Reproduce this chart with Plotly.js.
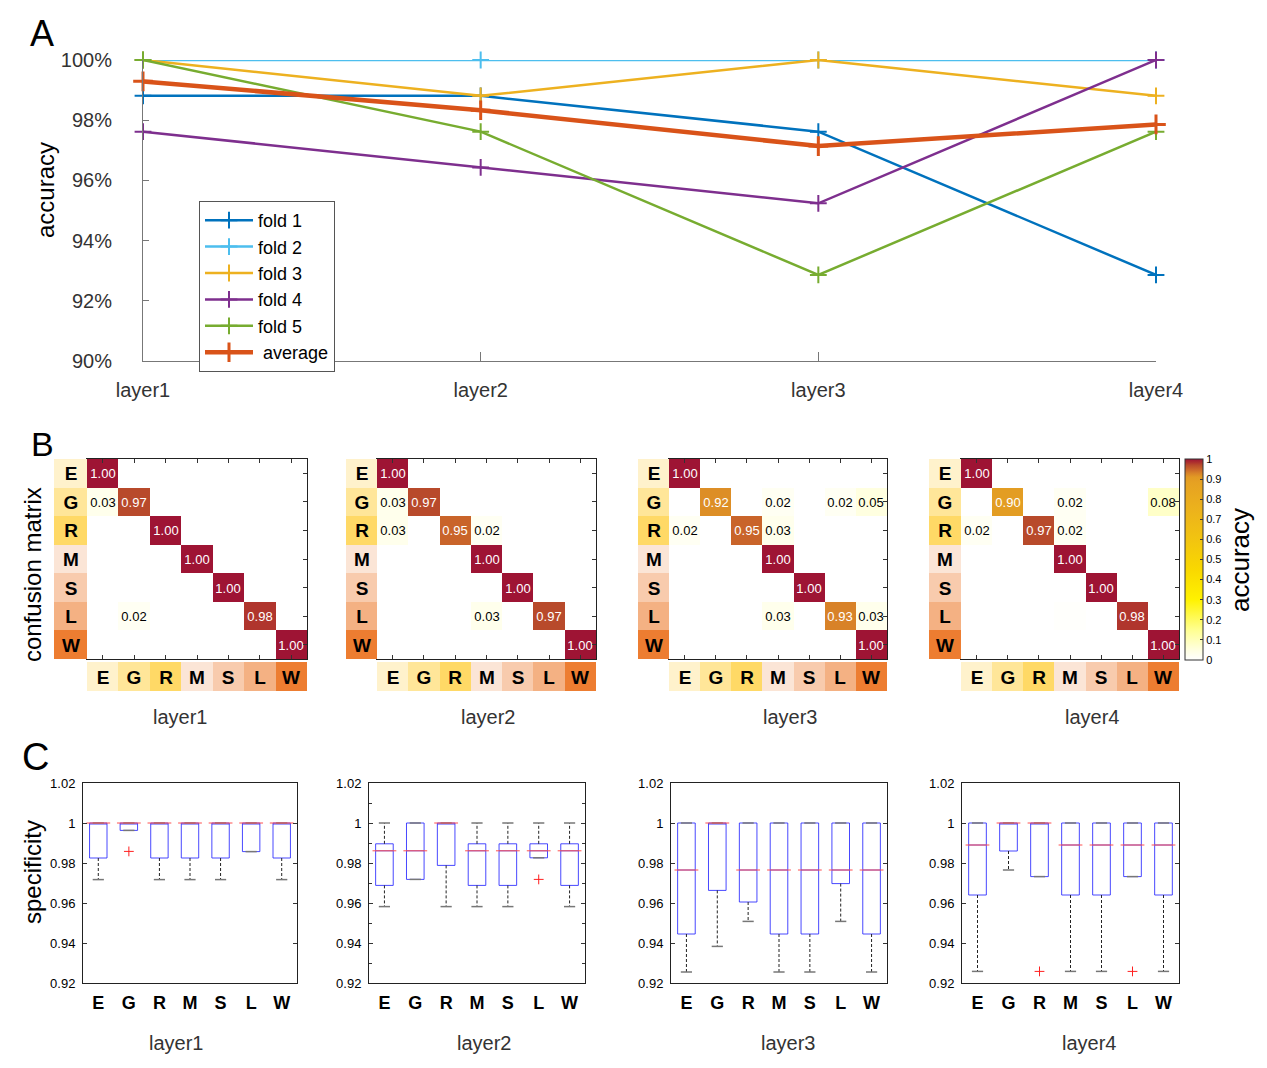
<!DOCTYPE html>
<html>
<head>
<meta charset="utf-8">
<script src="https://cdn.plot.ly/plotly-3.0.1.min.js"></script>
<style>html,body{margin:0;padding:0;background:#fff;}#chart{width:1267px;height:1068px;}</style>
</head>
<body>
<div id="chart"></div>
<script>
// ---------- DATA ----------
const layers = ['layer1', 'layer2', 'layer3', 'layer4'];
const foldNames = ['fold 1', 'fold 2', 'fold 3', 'fold 4', 'fold 5', ' average'];
const foldColors = ['#0072BD', '#4DBEEE', '#EDB120', '#7E2F8E', '#77AC30', '#D95319'];
const fold1 = [98.81, 98.81, 97.62, 92.86];
const fold2 = [100, 100, 100, 100];
const fold3 = [100, 98.81, 100, 98.81];
const fold4 = [97.62, 96.43, 95.24, 100];
const fold5 = [100, 97.62, 92.86, 97.62];
const average = [99.29, 98.33, 97.14, 97.86];
const accTicks = [90, 92, 94, 96, 98, 100];
const accLabels = ['90%', '92%', '94%', '96%', '98%', '100%'];

const classes = ['E', 'G', 'R', 'M', 'S', 'L', 'W'];
const classColors = ['#FFF2CC', '#FFE699', '#FFD966', '#FBE5D6', '#F8CBAD', '#F4B183', '#ED7D31'];

const cm1 = [
  [1.00, 0, 0, 0, 0, 0, 0],
  [0.03, 0.97, 0, 0, 0, 0, 0],
  [0, 0, 1.00, 0, 0, 0, 0],
  [0, 0, 0, 1.00, 0, 0, 0],
  [0, 0, 0, 0, 1.00, 0, 0],
  [0, 0.02, 0, 0, 0, 0.98, 0],
  [0, 0, 0, 0, 0, 0, 1.00]];
const cm2 = [
  [1.00, 0, 0, 0, 0, 0, 0],
  [0.03, 0.97, 0, 0, 0, 0, 0],
  [0.03, 0, 0.95, 0.02, 0, 0, 0],
  [0, 0, 0, 1.00, 0, 0, 0],
  [0, 0, 0, 0, 1.00, 0, 0],
  [0, 0, 0, 0.03, 0, 0.97, 0],
  [0, 0, 0, 0, 0, 0, 1.00]];
const cm3 = [
  [1.00, 0, 0, 0, 0, 0, 0],
  [0, 0.92, 0, 0.02, 0, 0.02, 0.05],
  [0.02, 0, 0.95, 0.03, 0, 0, 0],
  [0, 0, 0, 1.00, 0, 0, 0],
  [0, 0, 0, 0, 1.00, 0, 0],
  [0, 0, 0, 0.03, 0, 0.93, 0.03],
  [0, 0, 0, 0, 0, 0, 1.00]];
const cm4 = [
  [1.00, 0, 0, 0, 0, 0, 0],
  [0, 0.90, 0, 0.02, 0, 0, 0.08],
  [0.02, 0, 0.97, 0.02, 0, 0, 0],
  [0, 0, 0, 1.00, 0, 0, 0],
  [0, 0, 0, 0, 1.00, 0, 0],
  [0, 0, 0, 0.005, 0, 0.98, 0],
  [0, 0, 0, 0, 0, 0, 1.00]];
const cbTicks = [0, 0.1, 0.2, 0.3, 0.4, 0.5, 0.6, 0.7, 0.8, 0.9, 1];
const cbLabels = ['0', '0.1', '0.2', '0.3', '0.4', '0.5', '0.6', '0.7', '0.8', '0.9', '1'];

// box-plot statistics per layer, classes E G R M S L W
const boxQ1 = [
  [0.9825, 0.9963, 0.9825, 0.9825, 0.9825, 0.9857, 0.9825],
  [0.9688, 0.9718, 0.9788, 0.9688, 0.9688, 0.9826, 0.9688],
  [0.9445, 0.9663, 0.9605, 0.9445, 0.9445, 0.9697, 0.9445],
  [0.9640, 0.9860, 0.9732, 0.9640, 0.9640, 0.9732, 0.9640]];
const boxMed = [
  [1, 1, 1, 1, 1, 1, 1],
  [0.9861, 0.9861, 1, 0.9861, 0.9861, 0.9861, 0.9861],
  [0.9765, 1, 0.9765, 0.9765, 0.9765, 0.9765, 0.9765],
  [0.9890, 1, 1, 0.9890, 0.9890, 0.9890, 0.9890]];
const boxQ3 = [
  [1, 1, 1, 1, 1, 1, 1],
  [0.9896, 1, 1, 0.9896, 0.9896, 0.9896, 0.9896],
  [1, 1, 1, 1, 1, 1, 1],
  [1, 1, 1, 1, 1, 1, 1]];
const boxLo = [
  [0.9717, 0.9963, 0.9717, 0.9717, 0.9717, 0.9857, 0.9717],
  [0.9582, 0.9718, 0.9582, 0.9582, 0.9582, 0.9826, 0.9582],
  [0.9255, 0.9383, 0.9508, 0.9255, 0.9255, 0.9508, 0.9255],
  [0.9258, 0.9765, 0.9732, 0.9258, 0.9258, 0.9732, 0.9258]];
const boxHi = [
  [1, 1, 1, 1, 1, 1, 1],
  [1, 1, 1, 1, 1, 1, 1],
  [1, 1, 1, 1, 1, 1, 1],
  [1, 1, 1, 1, 1, 1, 1]];
const outCls = [['G'], ['L'], [], ['R', 'L']];
const outVal = [[0.9858], [0.9718], [], [0.9258, 0.9258]];
const specTicks = [0.92, 0.94, 0.96, 0.98, 1, 1.02];
const specLabels = ['0.92', '0.94', '0.96', '0.98', '1', '1.02'];

// ---------- LAYOUT HELPERS ----------
const W = 1267, H = 1068;
const px = v => v / W;
const py = v => 1 - v / H;
const FONT = 'Liberation Sans, Arial, Helvetica, sans-serif';

const traces = [];
const layout = {
  width: W, height: H,
  margin: {l: 0, r: 0, t: 0, b: 0},
  paper_bgcolor: '#fff', plot_bgcolor: 'rgba(0,0,0,0)',
  font: {family: FONT, color: '#000'},
  showlegend: true,
  legend: {
    x: px(199), y: py(201), xanchor: 'left', yanchor: 'top',
    bordercolor: '#555', borderwidth: 1, bgcolor: '#fff',
    font: {size: 18, color: '#000'}, tracegroupgap: 0, itemwidth: 48,
    entrywidth: 115, entrywidthmode: 'pixels'
  },
  annotations: []
};

// ---------- PANEL A ----------
const foldSeries = [fold1, fold2, fold3, fold4, fold5, average];
foldSeries.forEach((s, k) => {
  const avg = k === 5;
  traces.push({
    type: 'scatter', mode: 'lines+markers', name: foldNames[k],
    x: [1, 2, 3, 4], y: s, xaxis: 'x', yaxis: 'y', cliponaxis: false,
    line: {color: foldColors[k], width: avg ? 4.5 : 2.5},
    marker: {symbol: 'cross-thin', size: avg ? 14 : 12, color: foldColors[k],
             line: {color: foldColors[k], width: avg ? 3 : 2}},
    hoverinfo: 'skip'
  });
});
layout.xaxis = {
  domain: [px(143), px(1156)], range: [1, 4], anchor: 'y',
  tickvals: [1, 2, 3, 4], ticktext: layers, ticks: 'inside', ticklen: 9, tickcolor: '#777',
  showline: true, linecolor: '#777', linewidth: 1, showgrid: false, zeroline: false,
  tickfont: {size: 20, color: '#333'}, ticklabelstandoff: 11
};
layout.yaxis = {
  domain: [py(361), py(60)], range: [90, 100], anchor: 'x',
  tickvals: accTicks, ticktext: accLabels, ticks: 'inside', ticklen: 6, tickcolor: '#777',
  showline: true, linecolor: '#777', linewidth: 1, showgrid: false, zeroline: false,
  tickfont: {size: 20, color: '#333'}, ticklabelstandoff: 26
};

// ---------- PANEL B ----------
const cms = [cm1, cm2, cm3, cm4];
const mL = [87, 377, 669, 961], mR = [307, 596, 887, 1179], rL = [54, 346, 638, 929];
const idx = [0, 1, 2, 3, 4, 5, 6];
const stripScale = [];
classColors.forEach((c, k) => { stripScale.push([k / 7, c]); stripScale.push([(k + 1) / 7, c]); });

layout.coloraxis = {
  cmin: 0, cmax: 1,
  colorscale: [
    [0, '#FFFFFF'], [0.05, '#FFFFE0'], [0.15, '#FFFF90'], [0.3, '#FFF200'],
    [0.45, '#F9D800'], [0.6, '#F2C410'], [0.75, '#ECB21C'], [0.88, '#E6A222'],
    [0.91, '#E29A24'], [0.93, '#D88228'], [0.95, '#C9642A'], [0.97, '#B84A2B'],
    [0.98, '#B0352D'], [1, '#9E1434']],
  colorbar: {
    x: px(1185), xanchor: 'left', xref: 'paper', y: py(459), yanchor: 'top',
    len: 201, lenmode: 'pixels', thickness: 18, thicknessmode: 'pixels',
    outlinecolor: '#333', outlinewidth: 1, xpad: 0, ypad: 0,
    tickvals: cbTicks, ticktext: cbLabels, ticks: 'inside', ticklen: 3, tickcolor: '#333',
    tickfont: {size: 11, color: '#000'}
  }
};

cms.forEach((cm, i) => {
  const xm = 'x' + (2 + i), ym = 'y' + (2 + i), xr = 'x' + (6 + i), yc = 'y' + (6 + i);
  // light cells: black text
  const txtLight = cm.map(r => r.map(v => (v >= 0.01 && v < 0.5) ? v.toFixed(2) : ''));
  traces.push({
    type: 'heatmap', x: idx, y: idx, z: cm, text: txtLight, texttemplate: '%{text}',
    textfont: {size: 13, family: FONT, color: '#000'},
    coloraxis: 'coloraxis', xaxis: xm, yaxis: ym, hoverinfo: 'skip', showlegend: false
  });
  // dark cells: white text (only high values kept)
  const zDark = cm.map(r => r.map(v => v >= 0.5 ? v : null));
  const txtDark = cm.map(r => r.map(v => v >= 0.5 ? v.toFixed(2) : ''));
  traces.push({
    type: 'heatmap', x: idx, y: idx, z: zDark, text: txtDark, texttemplate: '%{text}',
    textfont: {size: 13, family: FONT, color: '#fff'},
    coloraxis: 'coloraxis', xaxis: xm, yaxis: ym, hoverinfo: 'skip', showlegend: false
  });
  // row label strip
  traces.push({
    type: 'heatmap', x: [0], y: idx, z: idx.map(k => [k]), text: classes.map(c => [c]),
    texttemplate: '<b>%{text}</b>', textfont: {size: 19, color: '#000', family: FONT},
    colorscale: stripScale, zmin: -0.5, zmax: 6.5, showscale: false,
    xaxis: xr, yaxis: ym, hoverinfo: 'skip', showlegend: false
  });
  // column label strip
  traces.push({
    type: 'heatmap', x: idx, y: [0], z: [idx], text: [classes],
    texttemplate: '<b>%{text}</b>', textfont: {size: 19, color: '#000', family: FONT},
    colorscale: stripScale, zmin: -0.5, zmax: 6.5, showscale: false,
    xaxis: xm, yaxis: yc, hoverinfo: 'skip', showlegend: false
  });
  const common = {showticklabels: false, ticks: 'inside', ticklen: 4, tickcolor: '#333',
    showline: true, linecolor: '#222', linewidth: 1,
    showgrid: false, zeroline: false, tickvals: idx, layer: 'above traces'};
  layout['xaxis' + (2 + i)] = Object.assign({domain: [px(mL[i]), px(mR[i])], range: [-0.5, 6.5], anchor: ym, side: 'bottom', mirror: 'ticks'}, common);
  layout['yaxis' + (2 + i)] = Object.assign({domain: [py(659), py(459)], range: [6.5, -0.5], anchor: xm, side: 'right', mirror: true}, common);
  layout['xaxis' + (6 + i)] = {domain: [px(rL[i]), px(mL[i])], range: [-0.5, 0.5], anchor: ym, visible: false};
  layout['yaxis' + (6 + i)] = {domain: [py(691), py(662)], range: [-0.5, 0.5], anchor: xm, visible: false};
});

// ---------- PANEL C ----------
const bL = [83, 369, 671, 962], bR = [297, 585, 887, 1179];
const pos = [1, 2, 3, 4, 5, 6, 7];
const BW = 0.57;
layers.forEach((ly, j) => {
  const xa = 'x' + (10 + j), ya = 'y' + (10 + j);
  // box bodies (whiskers drawn separately, dashed)
  traces.push({
    type: 'box', x: pos, q1: boxQ1[j], median: boxMed[j], q3: boxQ3[j],
    lowerfence: boxQ1[j], upperfence: boxQ3[j], width: BW, whiskerwidth: 0,
    boxpoints: false, line: {color: 'rgba(40,40,255,0.85)', width: 1},
    fillcolor: 'rgba(0,0,0,0)', xaxis: xa, yaxis: ya, hoverinfo: 'skip', showlegend: false
  });
  // dashed whiskers
  const wx = [], wy = [];
  pos.forEach((p, k) => {
    wx.push(p, p, null, p, p, null);
    wy.push(boxQ1[j][k], boxLo[j][k], null, boxQ3[j][k], boxHi[j][k], null);
  });
  traces.push({
    type: 'scatter', mode: 'lines', x: wx, y: wy, connectgaps: false,
    line: {color: '#222', width: 1, dash: '3px,2px'}, xaxis: xa, yaxis: ya,
    hoverinfo: 'skip', showlegend: false
  });
  // whisker caps
  traces.push({
    type: 'scatter', mode: 'markers', x: pos.concat(pos), y: boxLo[j].concat(boxHi[j]),
    marker: {symbol: 'line-ew', size: 8, color: '#777', line: {color: '#777', width: 1.5}},
    xaxis: xa, yaxis: ya, hoverinfo: 'skip', showlegend: false, cliponaxis: false
  });
  // red medians
  traces.push({
    type: 'scatter', mode: 'markers', x: pos, y: boxMed[j],
    marker: {symbol: 'line-ew', size: 17, color: '#FF5050', line: {color: '#FF5050', width: 1}},
    xaxis: xa, yaxis: ya, hoverinfo: 'skip', showlegend: false, cliponaxis: false
  });
  // outliers
  if (outVal[j].length) {
    traces.push({
      type: 'scatter', mode: 'markers', x: outCls[j].map(c => classes.indexOf(c) + 1), y: outVal[j],
      marker: {symbol: 'cross-thin', size: 7, color: '#FF2020', line: {color: '#FF2020', width: 1}},
      xaxis: xa, yaxis: ya, hoverinfo: 'skip', showlegend: false
    });
  }
  layout['xaxis' + (10 + j)] = {
    domain: [px(bL[j]), px(bR[j])], range: [0.5, 7.5], anchor: ya,
    tickvals: pos, ticktext: classes, ticks: '', showline: true, mirror: true,
    linecolor: '#222', linewidth: 1, showgrid: false, zeroline: false,
    tickfont: {size: 18, color: '#000', weight: 'bold'}, ticklabelstandoff: 3
  };
  layout['yaxis' + (10 + j)] = {
    domain: [py(983), py(783)], range: [0.92, 1.02], anchor: xa,
    tickvals: specTicks, ticktext: specLabels, ticks: 'inside', ticklen: 4, tickcolor: '#333',
    showline: true, mirror: 'ticks', linecolor: '#222', linewidth: 1,
    showgrid: false, zeroline: false, tickfont: {size: 13, color: '#000'}, ticklabelstandoff: 4
  };
  if (j === 1) layout['yaxis11'].minor = {dtick: 0.01, ticks: 'inside', ticklen: 3, tickcolor: '#333'};
});

// ---------- TEXT LABELS ----------
function ann(text, x, y, size, opts) {
  layout.annotations.push(Object.assign({
    text: text, x: px(x), y: py(y), xref: 'paper', yref: 'paper',
    xanchor: 'center', yanchor: 'middle', showarrow: false,
    font: {size: size, color: '#000', family: FONT}
  }, opts || {}));
}
ann('A', 42, 34, 36);
ann('B', 42, 444, 34);
ann('C', 35, 757, 38);
ann('accuracy', 45, 190, 24, {textangle: -90});
ann('confusion matrix', 32, 575, 24, {textangle: -90});
ann('specificity', 32, 872, 24, {textangle: -90});
ann('accuracy', 1240, 560, 26, {textangle: -90});
const bLabelX = [180, 488, 790, 1092];
const cLabelX = [176, 484, 788, 1089];
layers.forEach((ly, j) => {
  ann(ly, bLabelX[j], 717, 20, {font: {size: 20, color: '#333', family: FONT}});
  ann(ly, cLabelX[j], 1043, 20, {font: {size: 20, color: '#333', family: FONT}});
});

Plotly.newPlot('chart', traces, layout, {staticPlot: true, displayModeBar: false});
</script>
</body>
</html>
